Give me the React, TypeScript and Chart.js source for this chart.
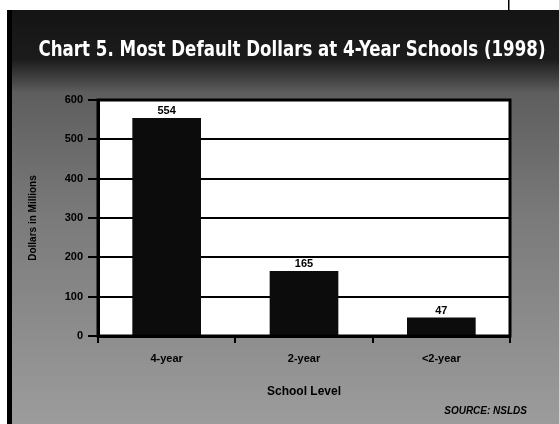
import { useEffect, useRef } from "react";
import { Chart, registerables } from "chart.js";

Chart.register(...registerables);

const categories = ["4-year", "2-year", "<2-year"];
const defaultDollars = [554, 165, 47];
const valueLabels = ["554", "165", "47"];
const yTicks = [0, 100, 200, 300, 400, 500, 600];
const titleText = "Chart 5. Most Default Dollars at 4-Year Schools (1998)";
const yAxisTitle = "Dollars in Millions";
const xAxisTitle = "School Level";
const sourceText = "SOURCE: NSLDS";

const W = 559;
const H = 424;
const SANS = "'Liberation Sans', Arial, Helvetica, sans-serif";
const NARROW = "'Liberation Sans Narrow', 'DejaVu Sans Condensed', 'Liberation Sans', sans-serif";

const framePlugin = {
  id: "framePlugin",
  beforeDraw(chart: any) {
    const ctx = chart.ctx;
    const ca = chart.chartArea;
    ctx.save();
    ctx.fillStyle = "#ffffff";
    ctx.fillRect(0, 0, W, H);
    const g = ctx.createLinearGradient(0, 10, 0, H);
    g.addColorStop(0, "#141414");
    g.addColorStop(0.12, "#1c1c1c");
    g.addColorStop(0.2, "#5e5e5e");
    g.addColorStop(0.5, "#7a7a7a");
    g.addColorStop(1, "#9c9c9c");
    ctx.fillStyle = g;
    ctx.fillRect(7, 10, W - 7, H - 10);
    ctx.fillStyle = "#000";
    ctx.fillRect(7, 10, 5, H - 10);
    ctx.fillRect(508, 0, 1.5, 11);
    ctx.fillStyle = "#ffffff";
    ctx.fillRect(ca.left, ca.top, ca.right - ca.left, ca.bottom - ca.top);
    ctx.restore();
  },
  afterDatasetsDraw(chart: any) {
    const ctx = chart.ctx;
    const meta = chart.getDatasetMeta(0);
    ctx.save();
    ctx.fillStyle = "#000";
    ctx.font = `bold 11px ${SANS}`;
    ctx.textAlign = "center";
    ctx.textBaseline = "alphabetic";
    meta.data.forEach((bar: any, i: number) => {
      ctx.fillText(valueLabels[i], bar.x, bar.y - 4);
    });
    ctx.restore();
  },
  afterDraw(chart: any) {
    const ctx = chart.ctx;
    const ca = chart.chartArea;
    ctx.save();
    ctx.strokeStyle = "#000";
    ctx.lineWidth = 3;
    ctx.strokeRect(ca.left, ca.top, ca.right - ca.left, ca.bottom - ca.top);
    ctx.fillStyle = "#ffffff";
    ctx.font = `bold 21px ${NARROW}`;
    ctx.textAlign = "center";
    ctx.textBaseline = "alphabetic";
    ctx.fillText(titleText, 292, 56, 507);
    ctx.fillStyle = "#000";
    ctx.font = `italic bold 10px ${SANS}`;
    ctx.textAlign = "right";
    ctx.fillText(sourceText, 527, 414);
    ctx.restore();
  },
};

export default function App() {
  const ref = useRef<HTMLCanvasElement | null>(null);
  useEffect(() => {
    if (!ref.current) return;
    const chart = new Chart(ref.current, {
      type: "bar",
      data: {
        labels: categories,
        datasets: [
          {
            data: defaultDollars,
            backgroundColor: "#0c0c0c",
            borderWidth: 0,
            barPercentage: 0.5,
            categoryPercentage: 1,
          },
        ],
      },
      options: {
        responsive: false,
        animation: false,
        devicePixelRatio: 1,
        layout: { padding: { left: 20, right: 49, top: 100, bottom: 22 } },
        plugins: {
          legend: { display: false },
          title: { display: false },
          tooltip: { enabled: false },
        },
        scales: {
          x: {
            offset: true,
            grid: {
              display: true,
              drawOnChartArea: false,
              color: "#000",
              lineWidth: 2,
              tickLength: 7,
              offset: true,
            },
            border: { display: true, color: "#000", width: 3 },
            ticks: {
              color: "#000",
              padding: 9,
              font: { family: SANS, size: 11, weight: "bold" },
            },
            title: {
              display: true,
              text: xAxisTitle,
              color: "#000",
              font: { family: SANS, size: 12, weight: "bold" },
              padding: { top: 0, bottom: 3 },
            },
            afterFit: (s: any) => {
              s.height = 66;
            },
          },
          y: {
            min: 0,
            max: 600,
            afterBuildTicks: (s: any) => {
              s.ticks = yTicks.map((v) => ({ value: v }));
            },
            grid: { color: "#000", lineWidth: 2, tickLength: 10 },
            border: { display: true, color: "#000", width: 3 },
            ticks: {
              color: "#000",
              padding: 5,
              font: { family: SANS, size: 11, weight: "bold" },
            },
            title: {
              display: true,
              text: yAxisTitle,
              color: "#000",
              font: { family: SANS, size: 10, weight: "bold" },
              padding: { top: 7, bottom: 0 },
            },
            afterFit: (s: any) => {
              s.width = 78;
            },
          },
        },
      },
      plugins: [framePlugin],
    } as any);
    return () => chart.destroy();
  }, []);
  return (
    <div style={{ position: "fixed", left: 0, top: 0, width: W, height: H }}>
      <canvas ref={ref} width={W} height={H} style={{ width: W, height: H, display: "block" }} />
    </div>
  );
}
